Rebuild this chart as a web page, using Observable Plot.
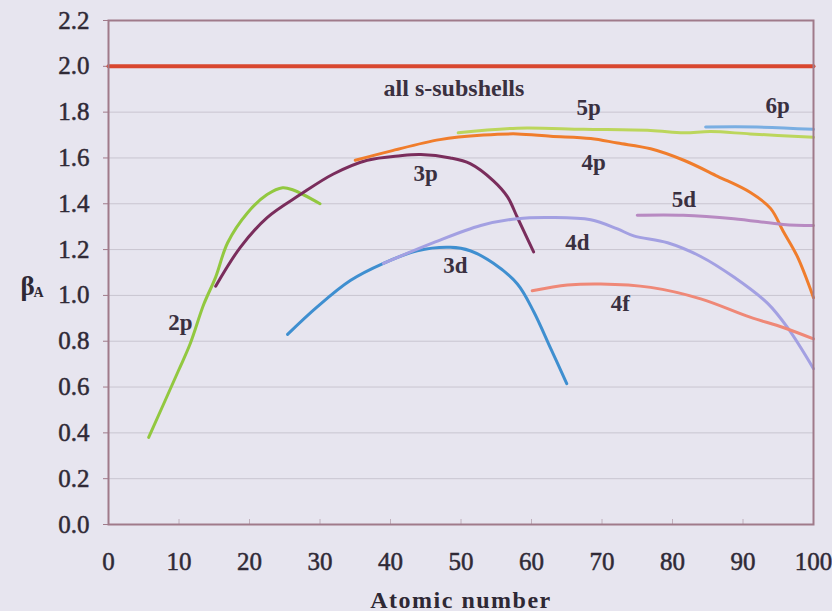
<!DOCTYPE html>
<html>
<head>
<meta charset="utf-8">
<script src="https://cdn.jsdelivr.net/npm/d3@7"></script>
<script src="https://cdn.jsdelivr.net/npm/@observablehq/plot@0.6"></script>
<style>
  html, body { margin: 0; padding: 0; background: #e7e5ef; }
  #chart { width: 832px; height: 611px; }
</style>
</head>
<body>
<div id="chart"></div>
<script>
// ---- data ----
const sX = [0, 100];
const sY = [2.0, 2.0];

const p2X = [5.7, 9.9, 11.6, 13.5, 15.2, 16.9, 19.7, 22.5, 24.7, 26.2, 30];
const p2Y = [0.38, 0.67, 0.79, 0.96, 1.08, 1.23, 1.36, 1.44, 1.47, 1.46, 1.40];

const p3X = [15.2, 18.7, 22.5, 27.2, 31.9, 36.7, 41.4, 44.3, 48.5, 51.3, 54.6, 56.6, 58, 60.3];
const p3Y = [1.04, 1.21, 1.34, 1.44, 1.53, 1.59, 1.61, 1.615, 1.60, 1.575, 1.50, 1.43, 1.34, 1.19];

const p4X = [35, 40, 47, 53.2, 58, 62.7, 68.4, 72.2, 76.9, 81.6, 86.4, 91, 93.9, 95.7, 97.7, 100];
const p4Y = [1.59, 1.63, 1.68, 1.70, 1.705, 1.695, 1.685, 1.665, 1.64, 1.59, 1.52, 1.45, 1.38, 1.28, 1.17, 0.99];

const p5X = [49.6, 58, 67.4, 76.9, 81.6, 85.4, 91, 100];
const p5Y = [1.71, 1.73, 1.725, 1.72, 1.71, 1.715, 1.705, 1.69];

const p6X = [84.7, 92, 100];
const p6Y = [1.735, 1.735, 1.725];

const d3X = [25.4, 29.6, 34.3, 39, 43.8, 48.5, 51.3, 54.6, 58, 60.3, 62.7, 65];
const d3Y = [0.83, 0.95, 1.065, 1.14, 1.195, 1.21, 1.195, 1.14, 1.05, 0.93, 0.77, 0.615];

const d4X = [39, 46.1, 52.8, 58, 62.7, 68.4, 72.2, 74.5, 79.3, 84, 88.7, 93.5, 96.3, 100];
const d4Y = [1.14, 1.23, 1.305, 1.335, 1.34, 1.33, 1.29, 1.26, 1.23, 1.17, 1.08, 0.965, 0.86, 0.68];

const d5X = [75, 81.5, 88.7, 95.7, 100];
const d5Y = [1.35, 1.35, 1.335, 1.31, 1.305];

const f4X = [60.1, 65.1, 69.8, 76.9, 84, 91, 95.7, 100];
const f4Y = [1.02, 1.045, 1.05, 1.035, 0.985, 0.905, 0.86, 0.81];

const seriesNames  = ["s", "2p", "3p", "4p", "5p", "6p", "3d", "4d", "5d", "4f"];
const seriesX      = [sX, p2X, p3X, p4X, p5X, p6X, d3X, d4X, d5X, f4X];
const seriesY      = [sY, p2Y, p3Y, p4Y, p5Y, p6Y, d3Y, d4Y, d5Y, f4Y];
const seriesColors = ["#d9472f", "#92c840", "#7a2d5c", "#f07d2c", "#bcd65c", "#7aaee2", "#3f8fd0", "#a3a0e2", "#b88ac2", "#ef8877"];

const labelText = ["all s-subshells", "2p", "3p", "3d", "5p", "6p", "4p", "5d", "4d", "4f"];
const labelX    = [49.0, 10.2, 45, 49.2, 68.1, 94.9, 68.8, 81.6, 66.5, 72.6];
const labelY    = [1.905, 0.88, 1.53, 1.13, 1.82, 1.83, 1.58, 1.42, 1.23, 0.965];

const xTicks = d3.range(0, 101, 10);
const yTicks = [0, 0.2, 0.4, 0.6, 0.8, 1.0, 1.2, 1.4, 1.6, 1.8, 2.0, 2.2];

// ---- build tables ----
const rows = [];
seriesNames.forEach((name, i) => {
  seriesX[i].forEach((x, j) => rows.push({series: name, x, y: seriesY[i][j]}));
});
const labels = labelText.map((t, i) => ({t, x: labelX[i], y: labelY[i]}));

const lineMarks = seriesNames.map((name, i) =>
  Plot.line(rows.filter(d => d.series === name), {
    x: "x", y: "y",
    stroke: seriesColors[i],
    strokeWidth: name === "s" ? 4 : 3,
    curve: "catmull-rom"
  })
);

const ink = "#2f2936";

const chart = Plot.plot({
  width: 832,
  height: 611,
  marginLeft: 108,
  marginRight: 19,
  marginTop: 20,
  marginBottom: 87,
  style: {
    fontFamily: "'Liberation Serif', 'Times New Roman', serif",
    fontSize: "25px",
    background: "#e7e5ef",
    color: ink
  },
  x: {type: "linear", domain: [0, 100]},
  y: {type: "linear", domain: [0, 2.2]},
  marks: [
    Plot.gridY(yTicks, {stroke: "#c9c5d0", strokeOpacity: 1, strokeWidth: 1}),
    Plot.axisY(yTicks, {
      tickSize: 5, tickPadding: 14, stroke: "#a07a8a",
      tickFormat: d3.format(".1f"), fontSize: 25, label: null,
      textStroke: ink, textStrokeWidth: 0.5
    }),
    Plot.axisX(xTicks, {
      tickSize: 0, tickPadding: 28, fontSize: 25, label: null,
      textStroke: ink, textStrokeWidth: 0.5
    }),
    Plot.axisX(xTicks, {
      tickSize: -5, stroke: "#c0b0bc", tickFormat: () => "", label: null
    }),
    ...lineMarks,
    Plot.frame({stroke: "#a07a8a", strokeWidth: 2}),
    Plot.text(labels, {
      x: "x", y: "y", text: "t",
      fontSize: 23, fontWeight: "bold", fill: "#3a3040"
    }),
    Plot.text(["Atomic number"], {
      frameAnchor: "bottom", dy: 83, fontSize: 24, fontWeight: "bold", fill: "#2e2834"
    }),
    Plot.text(["β"], {
      frameAnchor: "left", dx: -88, dy: 14, fontSize: 27, fontWeight: "bold", fill: "#2e2834"
    }),
    Plot.text(["A"], {
      frameAnchor: "left", dx: -75, dy: 20, fontSize: 14, fontWeight: "bold", fill: "#2e2834"
    })
  ]
});

d3.select(chart).selectAll("text")
  .filter(function() { return this.textContent === "Atomic number"; })
  .attr("letter-spacing", "1.5px");
d3.select(chart).selectAll("text")
  .filter(function() { return this.textContent === "all s-subshells"; })
  .attr("font-size", 24);

document.getElementById("chart").appendChild(chart);
</script>
</body>
</html>
